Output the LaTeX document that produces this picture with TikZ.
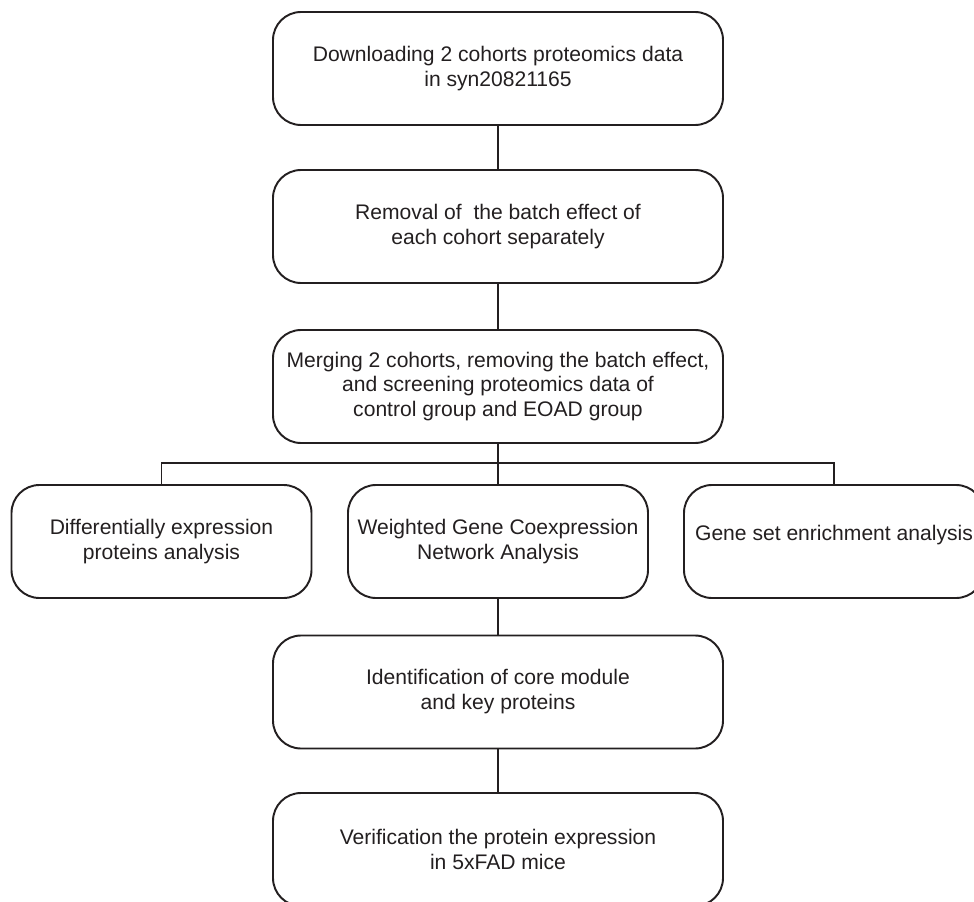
\documentclass[tikz,border=0pt]{standalone}
\usepackage{fontspec}
\setmainfont{Liberation Sans}
\usepackage{xcolor}
\usepackage{tikz}
\usetikzlibrary{positioning, calc}
\definecolor{ink}{HTML}{231F20}

\begin{document}
\begin{tikzpicture}[
    link/.style={draw=ink, line width=1.1pt},
    stepbox/.style={draw=ink, line width=1.1pt, rounded corners=0.56cm, minimum width=#1, minimum height=2.26cm, align=center, font=\fontsize{12}{14.2}\selectfont, text=ink},
    stepbox/.default=9cm,
]
    \useasboundingbox (0, 0) rectangle (19.48, -18.04);

    % Main column
    \node[stepbox] (download) at (9.96, -1.37) {Downloading 2 cohorts proteomics data\\in syn20821165};
    \node[stepbox] (removal) at (9.96, -4.53) {Removal of\ \ the batch effect of\\each cohort separately};
    \node[stepbox] (merging) at (9.96, -7.73) {Merging 2 cohorts, removing the batch effect,\\and screening proteomics data of\\control group and EOAD group};

    % Analyses
    \node[stepbox=6cm] (dep) at (3.23, -10.83) {Differentially expression\\proteins analysis};
    \node[stepbox=6cm] (wgcna) at (9.96, -10.83) {Weighted Gene Coexpression\\Network Analysis};
    \node[stepbox=6cm, text depth=10pt] (gsea) at (16.68, -10.83) {Gene set enrichment analysis};

    % Follow-up
    \node[stepbox] (core) at (9.96, -13.84) {Identification of core module\\and key proteins};
    \node[stepbox] (verify) at (9.96, -16.99) {Verification the protein expression\\in 5xFAD mice};

    \coordinate (split) at (9.96, -9.26);

    % Connectors
    \draw[link] (download) -- (removal);
    \draw[link] (removal) -- (merging);
    \draw[link] (merging) -- (split);
    \draw[link] (dep.north) |- (split) -| (gsea.north);
    \draw[link] (split) -- (wgcna);
    \draw[link] (wgcna) -- (core);
    \draw[link] (core) -- (verify);
\end{tikzpicture}
\end{document}
